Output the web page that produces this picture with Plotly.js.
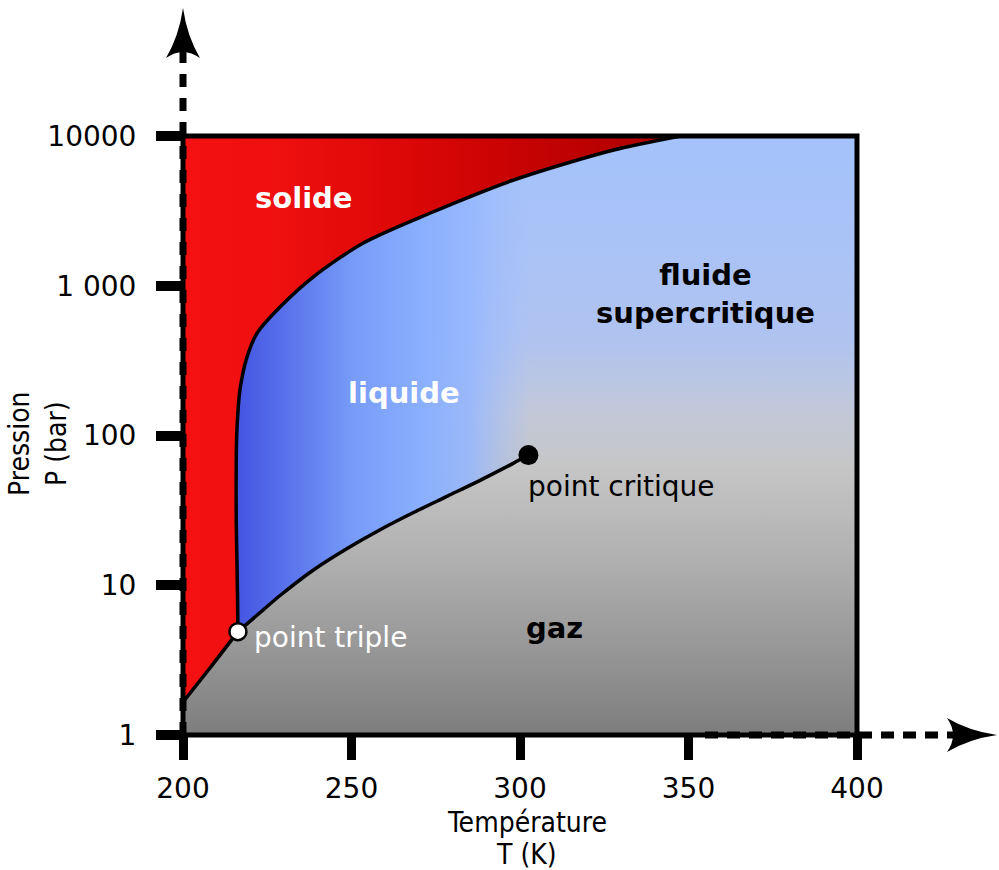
<!DOCTYPE html>
<html>
<head>
<meta charset="utf-8">
<script src="https://cdn.plot.ly/plotly-3.0.1.min.js"></script>
<style>
  html, body { margin: 0; padding: 0; background: #ffffff; }
  #chart { width: 999px; height: 870px; }
</style>
</head>
<body>
<div id="chart"></div>
<script>
// ---- Data (T in K, P in bar) ----
const tempRange = [200, 400];
const pressRange = [1, 10000];
const tempTicks = [200, 250, 300, 350, 400];
const pressTicks = [1, 10, 100, 1000, 10000];
const pressTickText = ['1', '10', '100', '1 000', '10000'];

const tripleT = [216.3];
const tripleP = [4.9];
const criticalT = [302.5];
const criticalP = [74];

// sublimation curve (solid / gas)
const sublT = [200, 208, 216.3];
const sublP = [1.66, 2.8, 4.9];
// melting curve (solid / liquid)
const meltT = [216.3, 216.2, 216.0, 215.8, 215.8, 216.0, 216.9, 219.0, 222.0, 228.8, 238.6, 253.5, 273.4, 298.1, 327.8, 347.7];
const meltP = [4.9, 8.0, 15, 27, 69, 109, 201, 334, 483, 721, 1143, 1929, 3061, 5082, 8066, 10000];
// vaporisation curve (liquid / gas)
const vapT = [216.3, 223.8, 228.8, 238.6, 248.7, 258.5, 268.4, 278.5, 288.3, 298.1, 302.5];
const vapP = [4.9, 6.85, 8.54, 12.6, 17.6, 23.5, 30.6, 39.4, 50.4, 65.4, 74];

const FONT = 'DejaVu Sans, Verdana, sans-serif';
const FONT_COND = 'DejaVu Sans Condensed, DejaVu Sans, sans-serif';

// ---- Region polygons built from the curves ----
const bgX = [tempRange[0], tempRange[1], tempRange[1], tempRange[0]];
const bgY = [pressRange[0], pressRange[0], pressRange[1], pressRange[1]];

const solidX = sublT.concat(meltT.slice(1), [tempRange[0]]);
const solidY = sublP.concat(meltP.slice(1), [pressRange[1]]);

// liquid: above the vaporisation curve, left of the critical temperature
// (the part left of the melting curve is covered by the solid region)
const liquidX = vapT.concat([criticalT[0], tripleT[0]]);
const liquidY = vapP.concat([pressRange[1], pressRange[1]]);

const curveLine = { color: '#000', width: 3.5, shape: 'spline', smoothing: 0.8 };

const traces = [
  { // gas / supercritical background
    x: bgX, y: bgY, type: 'scatter', mode: 'none', fill: 'toself',
    fillgradient: { type: 'vertical', colorscale: [
      [0, '#7d7d7d'], [0.15, '#989898'], [0.3, '#b1b1b1'], [0.45, '#c6c6c6'],
      [0.54, '#c2c8d9'], [0.66, '#afc3f0'], [1, '#a4c2fc'] ] },
    hoverinfo: 'skip'
  },
  { // liquid
    x: liquidX, y: liquidY, type: 'scatter', mode: 'none', fill: 'toself',
    fillgradient: { type: 'horizontal', colorscale: [
      [0, '#4455e2'], [0.2, '#5d78ed'], [0.4, '#789cf8'], [0.62, '#88aefd'],
      [0.8, 'rgba(148,182,255,0.85)'], [1, 'rgba(160,190,255,0.05)'] ] },
    hoverinfo: 'skip'
  },
  { // solid
    x: solidX, y: solidY, type: 'scatter', mode: 'none', fill: 'toself',
    fillgradient: { type: 'horizontal', colorscale: [
      [0, '#f51111'], [0.2, '#ee0f0f'], [0.45, '#dc0707'], [0.7, '#c50202'], [0.9, '#b40000'], [1, '#b00000'] ] },
    hoverinfo: 'skip'
  },
  { x: sublT, y: sublP, type: 'scatter', mode: 'lines', line: curveLine, hoverinfo: 'skip' },
  { x: meltT, y: meltP, type: 'scatter', mode: 'lines', line: curveLine, hoverinfo: 'skip' },
  { x: vapT, y: vapP, type: 'scatter', mode: 'lines', line: curveLine, hoverinfo: 'skip' },
  { x: criticalT, y: criticalP, type: 'scatter', mode: 'markers', marker: { color: '#000', size: 20 }, hoverinfo: 'skip' },
  { x: tripleT, y: tripleP, type: 'scatter', mode: 'markers', marker: { color: '#fff', size: 17, line: { color: '#000', width: 2.5 } }, hoverinfo: 'skip' }
];

const lg = Math.log10;
const annotations = [
  { text: 'solide', x: 235.8, y: 3.586, font: { family: FONT, size: 29, color: '#fff', weight: 'bold' } },
  { text: 'liquide', x: 265.5, y: 2.284, font: { family: FONT, size: 29, color: '#fff', weight: 'bold' } },
  { text: 'fluide<br>supercritique', x: 355, y: 2.945, font: { family: FONT, size: 29, color: '#000', weight: 'bold' } },
  { text: 'gaz', x: 310.1, y: 0.7145, font: { family: FONT, size: 29, color: '#000', weight: 'bold' } },
  { text: 'point critique', x: criticalT[0], y: lg(criticalP[0]), xanchor: 'left', xshift: -2, yshift: -31, font: { family: FONT, size: 28, color: '#000' } },
  { text: 'point triple', x: tripleT[0], y: lg(tripleP[0]), xanchor: 'left', xshift: 14, yshift: -6, font: { family: FONT, size: 28, color: '#fff' } },
  { text: 'Pression<br>P (bar)', xref: 'paper', yref: 'paper', x: -0.215, y: 0.486, textangle: -90, font: { family: FONT_COND, size: 28, color: '#000' } },
  { text: 'Température', xref: 'paper', yref: 'paper', x: 0.51, y: -0.1455, font: { family: FONT_COND, size: 28, color: '#000' } },
  { text: 'T (K)', xref: 'paper', yref: 'paper', x: 0.51, y: -0.2, font: { family: FONT_COND, size: 28, color: '#000' } }
].map(a => Object.assign({ xref: 'x', yref: 'y', showarrow: false, xanchor: 'center', yanchor: 'middle' }, a));

const shapes = [
  { type: 'rect', xref: 'paper', yref: 'paper', x0: 0, x1: 1, y0: 0, y1: 1, line: { color: '#000', width: 5 }, layer: 'above' },
  // dashed axis arrows
  { type: 'line', xref: 'paper', yref: 'paper', x0: 0, x1: 0, y0: 0, y1: 1.152, line: { color: '#000', width: 7, dash: '13px,11px' }, layer: 'above' },
  { type: 'line', xref: 'paper', yref: 'paper', x0: 0.7745, x1: 1.16, y0: 0, y1: 0, line: { color: '#000', width: 7, dash: '13px,9px' }, layer: 'above' },
  { type: 'path', xref: 'paper', yref: 'paper', xsizemode: 'pixel', ysizemode: 'pixel', xanchor: 0, yanchor: 1.2137,
    path: 'M0,0 Q4,-28 17,-50 Q0,-38 -17,-50 Q-4,-28 0,0 Z', fillcolor: '#000', line: { width: 0 }, layer: 'above' },
  { type: 'path', xref: 'paper', yref: 'paper', xsizemode: 'pixel', ysizemode: 'pixel', xanchor: 1.2077, yanchor: 0,
    path: 'M0,0 Q-28,4 -50,17 Q-38,0 -50,-17 Q-28,-4 0,0 Z', fillcolor: '#000', line: { width: 0 }, layer: 'above' }
];

const layout = {
  width: 999, height: 870,
  margin: { l: 183, r: 142, t: 136, b: 135 },
  paper_bgcolor: '#fff', plot_bgcolor: '#fff',
  showlegend: false,
  font: { family: FONT, size: 28, color: '#000' },
  xaxis: {
    range: tempRange, showgrid: false, zeroline: false, showline: false,
    tickmode: 'array', tickvals: tempTicks, ticks: 'outside', ticklen: 24, tickwidth: 9, tickcolor: '#000',
    tickfont: { family: FONT, size: 28, color: '#000' }, ticklabelstandoff: 4, fixedrange: true
  },
  yaxis: {
    type: 'log', range: [lg(pressRange[0]), lg(pressRange[1])], showgrid: false, zeroline: false, showline: false,
    tickmode: 'array', tickvals: pressTicks, ticktext: pressTickText, ticks: 'outside', ticklen: 26, tickwidth: 10, tickcolor: '#000',
    tickfont: { family: FONT, size: 28, color: '#000' }, ticklabelstandoff: 14, fixedrange: true
  },
  annotations: annotations,
  shapes: shapes
};

Plotly.newPlot('chart', traces, layout, { staticPlot: true, displayModeBar: false });
</script>
</body>
</html>
